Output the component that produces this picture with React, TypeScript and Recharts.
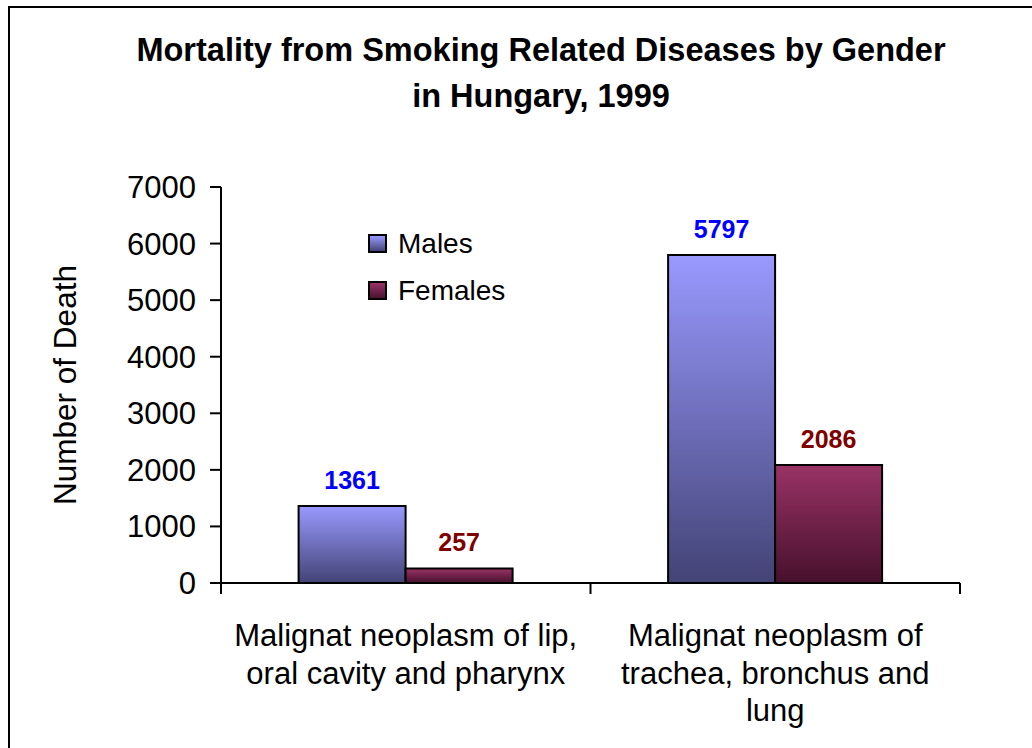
import { BarChart, Bar, XAxis, YAxis, Legend, LabelList } from 'recharts'

const categories = [
  'Malignat neoplasm of lip,\noral cavity and pharynx',
  'Malignat neoplasm of\ntrachea, bronchus and\nlung',
]
const males = [1361, 5797]
const females = [257, 2086]
const yTicks = [0, 1000, 2000, 3000, 4000, 5000, 6000, 7000]
const seriesOrder = ['Males', 'Females']

const data = categories.map((name, i) => ({ name, males: males[i], females: females[i] }))

const FONT = '"Liberation Sans", Arial, sans-serif'
const W = 1022
const H = 740
const M = { top: 179, right: 72, bottom: 25, left: 111 }
const PLOT_LEFT = M.left + 100
const PLOT_RIGHT = W - M.right
const PLOT_BOTTOM = 575
const BAND = (PLOT_RIGHT - PLOT_LEFT) / categories.length

function CategoryTick(props: any) {
  const { x, payload, index } = props
  const lines = String(payload.value).split('\n')
  const left = x - BAND / 2
  return (
    <g>
      <line x1={left} y1={PLOT_BOTTOM} x2={left} y2={PLOT_BOTTOM + 11} stroke="#000" strokeWidth={2} />
      {index === categories.length - 1 && (
        <line x1={x + BAND / 2} y1={PLOT_BOTTOM} x2={x + BAND / 2} y2={PLOT_BOTTOM + 11} stroke="#000" strokeWidth={2} />
      )}
      <text textAnchor="middle" fontFamily={FONT} fontSize={31} fill="#000">
        {lines.map((l, i) => (
          <tspan key={i} x={x} y={PLOT_BOTTOM + 63 + i * 37.5}>
            {l}
          </tspan>
        ))}
      </text>
    </g>
  )
}

const swatch: Record<string, string> = {
  Males: 'linear-gradient(#9999ff, #444477)',
  Females: 'linear-gradient(#993366, #4a1230)',
}

function renderLegend(props: any) {
  const items = [...(props.payload || [])].sort(
    (a: any, b: any) => seriesOrder.indexOf(a.value) - seriesOrder.indexOf(b.value),
  )
  return (
    <div style={{ fontFamily: FONT, fontSize: 28, color: '#000' }}>
      {items.map((it: any) => (
        <div key={it.value} style={{ display: 'flex', alignItems: 'center', height: 47 }}>
          <span
            style={{
              display: 'inline-block',
              width: 15,
              height: 15,
              border: '2px solid #000',
              background: swatch[it.value],
              marginRight: 11,
            }}
          />
          <span>{it.value}</span>
        </div>
      ))}
    </div>
  )
}

export default function App() {
  return (
    <>
      <style>{'body { margin: 0; overflow: hidden; }'}</style>
      <div
        style={{
          position: 'relative',
          margin: '6px 0 0 8px',
          boxSizing: 'border-box',
          width: 1024,
          height: 742,
          overflow: 'hidden',
          borderTop: '2px solid #000',
          borderLeft: '2px solid #000',
          background: '#fff',
        }}
      >
        <div
          style={{
            position: 'absolute',
            left: 31,
            top: 19,
            width: 1000,
            textAlign: 'center',
            fontFamily: FONT,
            fontWeight: 'bold',
            fontSize: 32.5,
            lineHeight: '46px',
            color: '#000',
          }}
        >
          Mortality from Smoking Related Diseases by Gender
          <br />
          in Hungary, 1999
        </div>
        <BarChart width={W} height={H} data={data} margin={M} barCategoryGap="21%" barGap={0}>
          <defs>
            <linearGradient id="gMale" x1="0" y1="0" x2="0" y2="1">
              <stop offset="0%" stopColor="#9999ff" />
              <stop offset="100%" stopColor="#434376" />
            </linearGradient>
            <linearGradient id="gFemale" x1="0" y1="0" x2="0" y2="1">
              <stop offset="0%" stopColor="#993366" />
              <stop offset="100%" stopColor="#47102c" />
            </linearGradient>
          </defs>
          <XAxis
            dataKey="name"
            height={140}
            interval={0}
            tickLine={false}
            axisLine={{ stroke: '#000', strokeWidth: 2 }}
            tick={<CategoryTick />}
          />
          <YAxis
            width={100}
            domain={[0, 7000]}
            ticks={yTicks}
            interval={0}
            tickSize={11}
            tickMargin={14}
            axisLine={{ stroke: '#000', strokeWidth: 2 }}
            tickLine={{ stroke: '#000', strokeWidth: 2 }}
            tick={{ fill: '#000', fontSize: 31, fontFamily: FONT }}
            label={{
              content: () => (
                <text
                  x={55}
                  y={377}
                  transform="rotate(-90 55 377)"
                  textAnchor="middle"
                  dominantBaseline="central"
                  fontFamily={FONT}
                  fontSize={31.5}
                  fill="#000"
                >
                  Number of Death
                </text>
              ),
            }}
          />
          <Legend
            layout="vertical"
            align="center"
            verticalAlign="middle"
            content={renderLegend}
            wrapperStyle={{ left: 358, top: 212, width: 200, height: 94 }}
          />
          <Bar dataKey="males" name="Males" fill="url(#gMale)" stroke="#000" strokeWidth={2} isAnimationActive={false}>
            <LabelList dataKey="males" position="top" offset={17} fill="#0000ff" fontSize={25} fontWeight="bold" fontFamily={FONT} />
          </Bar>
          <Bar dataKey="females" name="Females" fill="url(#gFemale)" stroke="#000" strokeWidth={2} isAnimationActive={false}>
            <LabelList dataKey="females" position="top" offset={17} fill="#800000" fontSize={25} fontWeight="bold" fontFamily={FONT} />
          </Bar>
        </BarChart>
      </div>
    </>
  )
}
